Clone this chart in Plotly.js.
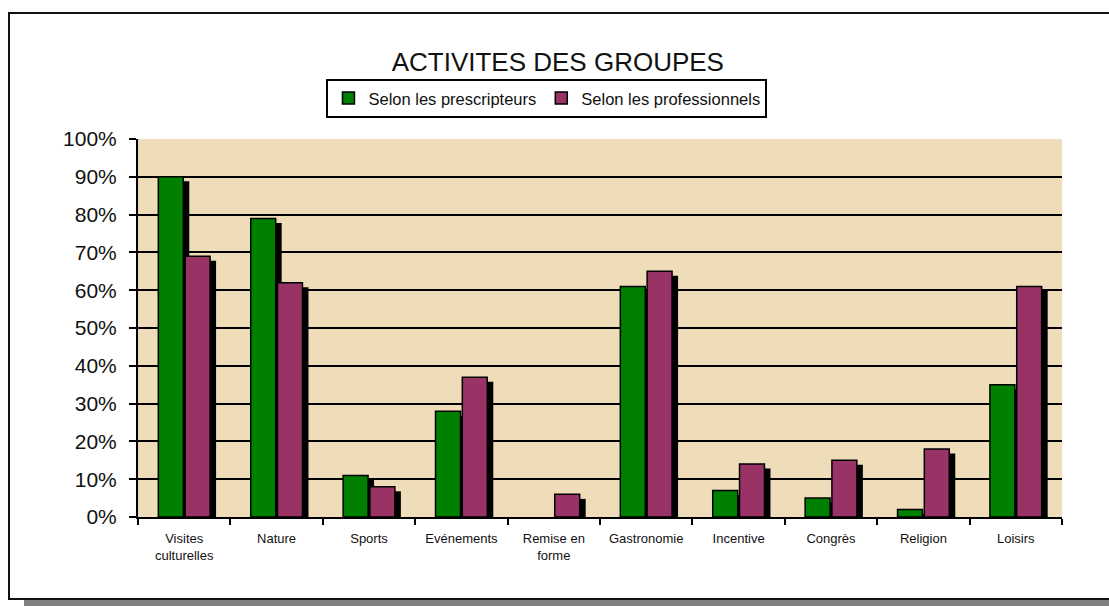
<!DOCTYPE html>
<html>
<head>
<meta charset="utf-8">
<script src="https://cdn.plot.ly/plotly-3.0.1.min.js"></script>
<style>
  html, body { margin: 0; padding: 0; background: #ffffff; width: 1109px; height: 606px; overflow: hidden; }
  #frame { position: absolute; left: 8px; top: 12px; width: 1200px; height: 584px;
           border-left: 2px solid #111; border-top: 2px solid #111; border-bottom: 2px solid #111;
           background: #ffffff; box-shadow: 16px 8px 0 0 #808080; }
  #chart { position: absolute; left: 0; top: 0; width: 1109px; height: 606px; }
</style>
</head>
<body>
<div id="frame"></div>
<div id="chart"></div>
<script>
const categories = ['Visites<br>culturelles', 'Nature', 'Sports', 'Evénements', 'Remise en<br>forme',
                    'Gastronomie', 'Incentive', 'Congrès', 'Religion', 'Loisirs'];
const prescripteurs = [90, 79, 11, 28, 0, 61, 7, 5, 2, 35];
const professionnels = [69, 62, 8, 37, 6, 65, 14, 15, 18, 61];
const seriesNames = ['Selon les prescripteurs', 'Selon les professionnels'];
const yTickVals = [0, 10, 20, 30, 40, 50, 60, 70, 80, 90, 100];

const W = 0.27;
const shadowDrop = 1.2;
function shadow(vals, off) {
  return {
    type: 'bar', x: categories, y: vals.map(v => v > 0 ? Math.max(v - shadowDrop, 0) : 0),
    offset: off + 0.065, width: W, marker: { color: '#000000', line: { width: 0 } },
    showlegend: false, hoverinfo: 'skip'
  };
}
function lineWidths(vals) { return vals.map(v => v > 0 ? 1.5 : 0); }
const data = [
  shadow(prescripteurs, -0.28),
  shadow(professionnels, 0.01),
  { type: 'bar', name: seriesNames[0], x: categories, y: prescripteurs, offset: -0.28, width: W,
    marker: { color: '#008000', line: { color: '#000000', width: lineWidths(prescripteurs) } } },
  { type: 'bar', name: seriesNames[1], x: categories, y: professionnels, offset: 0.01, width: W,
    marker: { color: '#993366', line: { color: '#000000', width: lineWidths(professionnels) } } }
];

const layout = {
  width: 1109, height: 606,
  margin: { l: 138, r: 47, t: 139, b: 89 },
  paper_bgcolor: 'rgba(0,0,0,0)',
  plot_bgcolor: '#EEDDB8',
  barmode: 'overlay',
  font: { family: 'Liberation Sans, Arial, sans-serif', color: '#111111' },
  title: { text: 'ACTIVITES DES GROUPES', font: { size: 26, color: '#111111' },
           x: 0.503, xanchor: 'center', xref: 'container', y: 1 - 62 / 606, yanchor: 'middle', yref: 'container' },
  showlegend: true,
  legend: { orientation: 'h', x: 0.4426, xanchor: 'center', y: 1.159, yanchor: 'top',
            bgcolor: '#ffffff', bordercolor: '#000000', borderwidth: 2,
            font: { size: 16.5, color: '#111111' }, traceorder: 'normal' },
  xaxis: { type: 'category', tickson: 'boundaries', ticks: 'outside', ticklen: 6, tickwidth: 2, tickcolor: '#000',
           showline: true, linecolor: '#000', linewidth: 2, showgrid: false, ticklabelstandoff: 8,
           tickfont: { size: 13, color: '#111' }, fixedrange: true },
  yaxis: { range: [0, 100], tickvals: yTickVals, ticktext: yTickVals.map(v => v + '%'),
           ticks: 'outside', ticklen: 7, tickwidth: 2, tickcolor: '#000',
           showline: true, linecolor: '#000', linewidth: 2, ticklabelstandoff: 8,
           showgrid: true, gridcolor: '#000000', gridwidth: 2, zeroline: false,
           tickfont: { size: 21, color: '#111' }, fixedrange: true }
};

Plotly.newPlot('chart', data, layout, { displayModeBar: false, staticPlot: true });
</script>
</body>
</html>
